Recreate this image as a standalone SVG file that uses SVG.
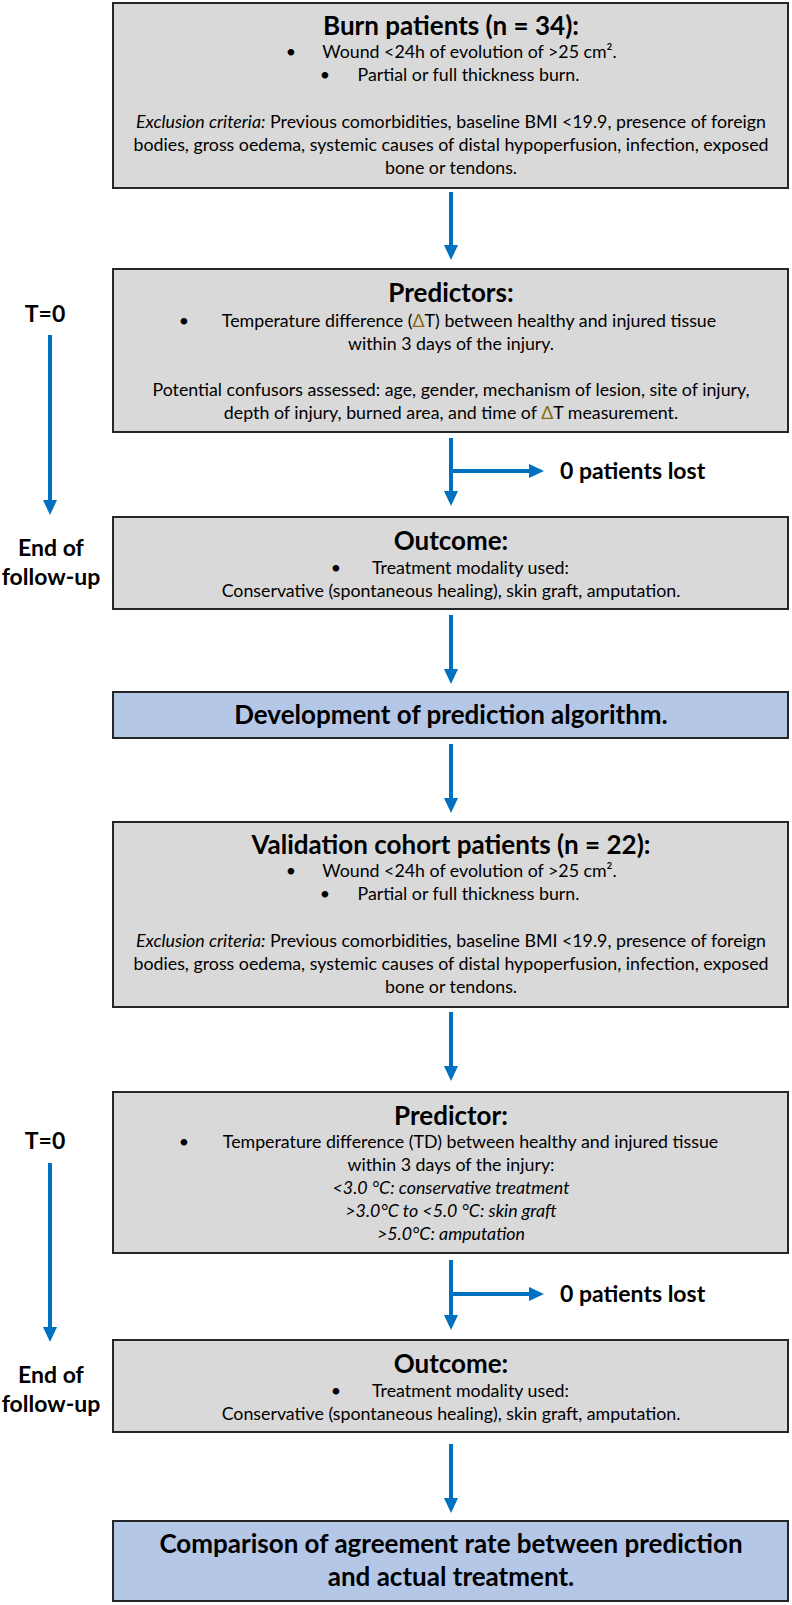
<svg xmlns="http://www.w3.org/2000/svg" width="792" height="1605" viewBox="0 0 792 1605">
<defs>
<style>
text{font-family:Lato,"Open Sans","DejaVu Sans",sans-serif;fill:#000}
.b{fill:#d9d9d9;stroke:#262626;stroke-width:2}
.bl{fill:#b4c7e7;stroke:#262626;stroke-width:2}
.h{font-size:26px;font-weight:bold;text-anchor:middle}
.t{font-size:17.8px;text-anchor:middle}
.i{font-style:italic}
.lab{font-size:23px;font-weight:bold;text-anchor:middle}
.lost{font-size:23px;font-weight:bold}
.d{fill:#8a6a10}
.c{stroke:#0070c0;stroke-width:4;fill:none}
</style>
<marker id="ah" markerUnits="userSpaceOnUse" viewBox="0 0 15 14" markerWidth="15" markerHeight="14" refX="3" refY="7" orient="auto">
<path d="M0,0 L15,7 L0,14 z" fill="#0070c0"/>
</marker>
</defs>

<g id="connectors">
<line class="c" x1="451" y1="192" x2="451" y2="248" marker-end="url(#ah)"/>
<line class="c" x1="451" y1="438" x2="451" y2="494" marker-end="url(#ah)"/>
<line class="c" x1="449" y1="471" x2="532" y2="471" marker-end="url(#ah)"/>
<line class="c" x1="451" y1="615" x2="451" y2="672" marker-end="url(#ah)"/>
<line class="c" x1="451" y1="744" x2="451" y2="801" marker-end="url(#ah)"/>
<line class="c" x1="451" y1="1012" x2="451" y2="1069" marker-end="url(#ah)"/>
<line class="c" x1="451" y1="1260" x2="451" y2="1318" marker-end="url(#ah)"/>
<line class="c" x1="449" y1="1294" x2="532" y2="1294" marker-end="url(#ah)"/>
<line class="c" x1="451" y1="1444" x2="451" y2="1501" marker-end="url(#ah)"/>
<line class="c" x1="50" y1="335" x2="50" y2="503" marker-end="url(#ah)"/>
<line class="c" x1="50" y1="1163" x2="50" y2="1330" marker-end="url(#ah)"/>
</g>

<g id="timeline-labels">
<text class="lab" x="45" y="322">T=0</text>
<text class="lab" x="51" y="556">End of</text>
<text class="lab" x="51" y="585">follow-up</text>
<text class="lab" x="45" y="1149">T=0</text>
<text class="lab" x="51" y="1383">End of</text>
<text class="lab" x="51" y="1412">follow-up</text>
<text class="lost" x="560" y="479">0 patients lost</text>
<text class="lost" x="560" y="1302">0 patients lost</text>
</g>

<g id="burn-patients">
<rect class="b" x="113" y="3" width="675" height="185"/>
<text class="h" x="451" y="35">Burn patients (n = 34):</text>
<text class="t" x="291" y="58">•</text>
<text class="t" x="469.5" y="58">Wound &lt;24h of evolution of &gt;25 cm².</text>
<text class="t" x="325" y="81">•</text>
<text class="t" x="468.5" y="81">Partial or full thickness burn.</text>
<text class="t" x="451" y="128"><tspan class="i">Exclusion criteria:</tspan> Previous comorbidities, baseline BMI &lt;19.9, presence of foreign</text>
<text class="t" x="451" y="151">bodies, gross oedema, systemic causes of distal hypoperfusion, infection, exposed</text>
<text class="t" x="451" y="174">bone or tendons.</text>
</g>

<g id="predictors">
<rect class="b" x="113" y="269" width="675" height="163"/>
<text class="h" x="451" y="302">Predictors:</text>
<text class="t" x="184" y="327">•</text>
<text class="t" x="469" y="327">Temperature difference (<tspan class="d">Δ</tspan>T) between healthy and injured tissue</text>
<text class="t" x="451" y="350">within 3 days of the injury.</text>
<text class="t" x="451" y="396">Potential confusors assessed: age, gender, mechanism of lesion, site of injury,</text>
<text class="t" x="451" y="419">depth of injury, burned area, and time of <tspan class="d">Δ</tspan>T measurement.</text>
</g>

<g id="outcome-1">
<rect class="b" x="113" y="517" width="675" height="92"/>
<text class="h" x="451" y="550">Outcome:</text>
<text class="t" x="336" y="574">•</text>
<text class="t" x="470.5" y="574">Treatment modality used:</text>
<text class="t" x="451" y="597">Conservative (spontaneous healing), skin graft, amputation.</text>
</g>

<g id="development">
<rect class="bl" x="113" y="692" width="675" height="46"/>
<text class="h" x="451" y="724">Development of prediction algorithm.</text>
</g>

<g id="validation">
<rect class="b" x="113" y="822" width="675" height="185"/>
<text class="h" x="451" y="854">Validation cohort patients (n = 22):</text>
<text class="t" x="291" y="877">•</text>
<text class="t" x="469.5" y="877">Wound &lt;24h of evolution of &gt;25 cm².</text>
<text class="t" x="325" y="900">•</text>
<text class="t" x="468.5" y="900">Partial or full thickness burn.</text>
<text class="t" x="451" y="947"><tspan class="i">Exclusion criteria:</tspan> Previous comorbidities, baseline BMI &lt;19.9, presence of foreign</text>
<text class="t" x="451" y="970">bodies, gross oedema, systemic causes of distal hypoperfusion, infection, exposed</text>
<text class="t" x="451" y="993">bone or tendons.</text>
</g>

<g id="predictor">
<rect class="b" x="113" y="1092" width="675" height="161"/>
<text class="h" x="451" y="1125">Predictor:</text>
<text class="t" x="184" y="1148">•</text>
<text class="t" x="470.5" y="1148">Temperature difference (TD) between healthy and injured tissue</text>
<text class="t" x="451" y="1171">within 3 days of the injury:</text>
<text class="t i" x="451" y="1194">&lt;3.0 °C: conservative treatment</text>
<text class="t i" x="451" y="1217">&gt;3.0°C to &lt;5.0 °C: skin graft</text>
<text class="t i" x="451" y="1240">&gt;5.0°C: amputation</text>
</g>

<g id="outcome-2">
<rect class="b" x="113" y="1340" width="675" height="92"/>
<text class="h" x="451" y="1373">Outcome:</text>
<text class="t" x="336" y="1397">•</text>
<text class="t" x="470.5" y="1397">Treatment modality used:</text>
<text class="t" x="451" y="1420">Conservative (spontaneous healing), skin graft, amputation.</text>
</g>

<g id="comparison">
<rect class="bl" x="113" y="1521" width="675" height="80"/>
<text class="h" x="451" y="1553">Comparison of agreement rate between prediction</text>
<text class="h" x="451" y="1586">and actual treatment.</text>
</g>
</svg>
